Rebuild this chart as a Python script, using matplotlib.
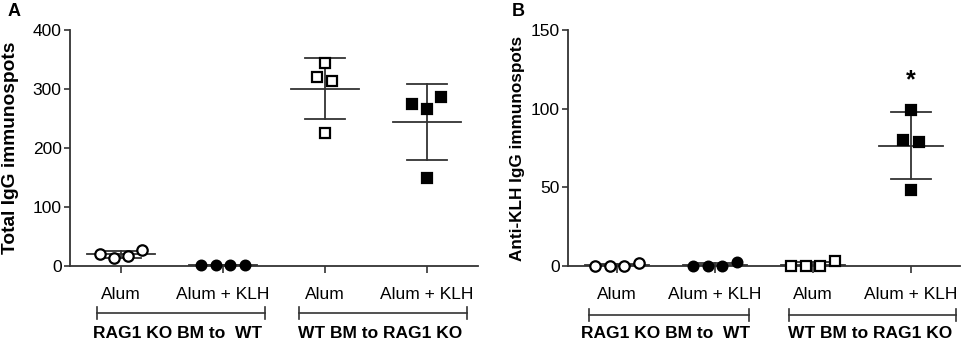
import numpy as np
import matplotlib
matplotlib.use("Agg")
import matplotlib.pyplot as plt
from matplotlib.transforms import blended_transform_factory

plt.rcParams['font.family'] = ['Liberation Sans', 'DejaVu Sans']

categories = ["Alum", "Alum + KLH", "Alum", "Alum + KLH"]
group_labels = ["RAG1 KO BM to  WT", "WT BM to RAG1 KO"]

# Panel A: Total IgG immunospots (4 mice per group)
a_vals = [
    [21, 14, 17, 27],
    [1, 1, 1, 2],
    [344, 321, 313, 225],
    [275, 266, 286, 149],
]
a_offsets = [
    [-0.21, -0.07, 0.07, 0.21],
    [-0.22, -0.07, 0.07, 0.22],
    [0.0, -0.08, 0.07, 0.0],
    [-0.15, 0.0, 0.14, 0.0],
]
# Panel B: Anti-KLH IgG immunospots
b_vals = [
    [0, 0, 0, 2],
    [0, 0, 0, 2.5],
    [0, 0, 0, 3],
    [99, 80, 79, 48],
]
b_offsets = [
    [-0.22, -0.07, 0.07, 0.22],
    [-0.22, -0.07, 0.07, 0.22],
    [-0.22, -0.07, 0.07, 0.22],
    [0.0, -0.08, 0.08, 0.0],
]

markers = ['o', 'o', 's', 's']
fills = ['white', 'black', 'white', 'black']
msizes = [7.5, 7.0, 7.5, 7.5]

line_col = '#333333'

fig = plt.figure(figsize=(9.65, 3.45), dpi=100)
axA = fig.add_axes([70/965, 1-266/345, (478-70)/965, 236/345])
axB = fig.add_axes([568/965, 1-266/345, (960-568)/965, 236/345])


def draw_panel(ax, vals, offsets, ymax, yticks, ylabel, ylabel_size, brackets, label_x):
    for i, (v, off) in enumerate(zip(vals, offsets)):
        v = np.array(v, dtype=float)
        m = v.mean()
        sd = v.std(ddof=1)
        # mean line
        ax.plot([i-0.33, i+0.33], [m, m], color=line_col, lw=1.3, zorder=2)
        # SD bar
        ax.plot([i, i], [m-sd, m+sd], color=line_col, lw=1.3, zorder=2)
        for y in (m-sd, m+sd):
            ax.plot([i-0.2, i+0.2], [y, y], color=line_col, lw=1.3, zorder=2)
        ax.plot(i + np.array(off), v, linestyle='none', marker=markers[i],
                markersize=msizes[i], markerfacecolor=fills[i],
                markeredgecolor='black', markeredgewidth=1.6, zorder=3,
                clip_on=False)
    ax.set_xlim(-0.5, 3.5)
    ax.set_ylim(0, ymax)
    ax.set_yticks(yticks)
    ax.set_xticks(range(4))
    ax.set_xticklabels(categories, fontsize=12.5)
    ax.tick_params(axis='y', labelsize=12.5, length=4, width=1.2, color=line_col, pad=2)
    ax.tick_params(axis='x', length=5, width=1.2, color=line_col, pad=10)
    for s in ('top', 'right'):
        ax.spines[s].set_visible(False)
    for s in ('left', 'bottom'):
        ax.spines[s].set_color(line_col)
        ax.spines[s].set_linewidth(1.3)
    ax.set_ylabel(ylabel, fontsize=ylabel_size, fontweight='bold', va='center')
    ax.yaxis.set_label_coords(label_x, 0.5)
    tr = blended_transform_factory(ax.transData, ax.transAxes)
    for (x0, x1, yb), lab in zip(brackets, group_labels):
        ax.plot([x0, x1], [yb, yb], color=line_col, lw=1.2, transform=tr, clip_on=False)
        for xx in (x0, x1):
            ax.plot([xx, xx], [yb-0.025, yb+0.025], color=line_col, lw=1.2,
                    transform=tr, clip_on=False)
        ax.text((x0+x1)/2 - 0.03, -0.285, lab, transform=tr, ha='center', va='center',
                fontsize=12.5, fontweight='bold')


draw_panel(axA, a_vals, a_offsets, 400, [0, 100, 200, 300, 400],
           "Total IgG immunospots", 13.8,
           [(-0.235, 1.41, -0.199), (1.745, 3.39, -0.199)], -0.147)
draw_panel(axB, b_vals, b_offsets, 150, [0, 50, 100, 150],
           "Anti-KLH IgG immunospots", 12.3,
           [(-0.29, 1.35, -0.208), (1.76, 3.46, -0.208)], -0.13)

axB.text(3, 118, "*", ha='center', va='center', fontsize=18, fontweight='bold')

fig.text(8/965, 1-12/345, "A", fontsize=13, fontweight='bold', va='center', ha='left')
fig.text(512/965, 1-12/345, "B", fontsize=13, fontweight='bold', va='center', ha='left')

fig.savefig("out.png", dpi=100)
